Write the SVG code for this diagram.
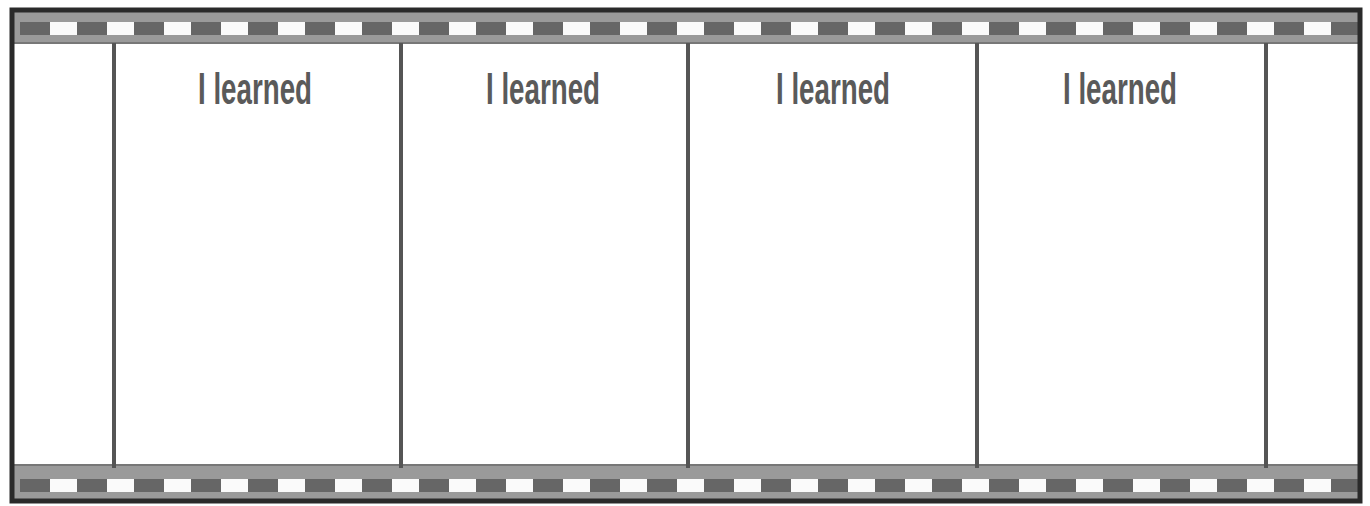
<svg xmlns="http://www.w3.org/2000/svg" width="1370" height="506" viewBox="0 0 1370 506">
<defs>
<style>
.band{fill:#9a9a9a}
.div{stroke:#555;stroke-width:4}
.lbl{font-family:"Liberation Sans",Arial,sans-serif;font-size:44px;font-weight:bold;fill:#5a5a5a;text-anchor:middle}
</style>
<pattern id="perf" x="20" y="0" width="57" height="506" patternUnits="userSpaceOnUse">
<rect x="0" y="0" width="30" height="506" fill="#666"/>
<rect x="30" y="0" width="27" height="506" fill="#fafafa"/>
</pattern>
</defs>
<rect width="1370" height="506" fill="#ffffff"/>
<g id="film">
<rect x="12" y="12" width="1348" height="488" fill="#ffffff"/>
<rect x="12" y="12" width="1348" height="31" class="band"/>
<rect x="20" y="22" width="1338" height="13" fill="url(#perf)"/>
<rect x="12" y="465" width="1348" height="35" class="band"/>
<rect x="20" y="479" width="1338" height="13" fill="url(#perf)"/>
<line x1="12" y1="43" x2="1360" y2="43" stroke="#777" stroke-width="2"/>
<line x1="12" y1="465" x2="1360" y2="465" stroke="#777" stroke-width="2"/>
<rect x="12" y="10" width="1348" height="491" fill="none" stroke="#2a2a2a" stroke-width="5"/>
</g>
<g id="dividers">
<line class="div" x1="114" y1="43" x2="114" y2="468"/>
<line class="div" x1="401" y1="43" x2="401" y2="468"/>
<line class="div" x1="688" y1="43" x2="688" y2="468"/>
<line class="div" x1="977" y1="43" x2="977" y2="468"/>
<line class="div" x1="1266" y1="43" x2="1266" y2="468"/>
</g>
<g id="frame1"><text class="lbl" x="255" y="104" textLength="114" lengthAdjust="spacingAndGlyphs">I learned</text></g>
<g id="frame2"><text class="lbl" x="543" y="104" textLength="114" lengthAdjust="spacingAndGlyphs">I learned</text></g>
<g id="frame3"><text class="lbl" x="833" y="104" textLength="114" lengthAdjust="spacingAndGlyphs">I learned</text></g>
<g id="frame4"><text class="lbl" x="1120" y="104" textLength="114" lengthAdjust="spacingAndGlyphs">I learned</text></g>
</svg>
